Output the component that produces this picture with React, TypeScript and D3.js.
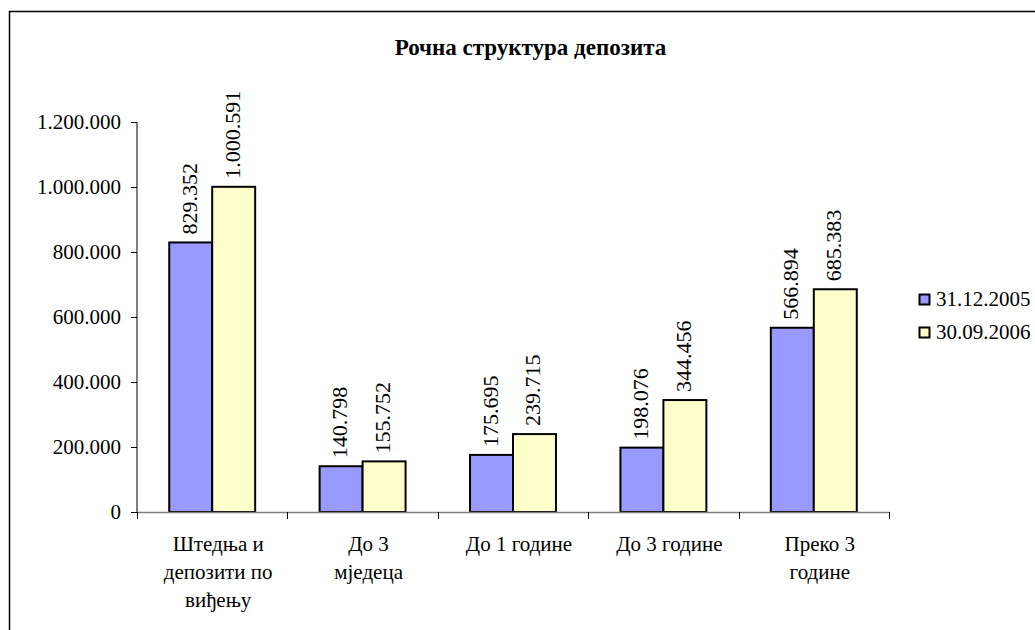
import React from "react";
import * as d3 from "d3";

// Maturity structure of deposits, two reporting dates
const categories: string[][] = [
  ["Штедња и", "депозити по", "виђењу"],
  ["До 3", "мједеца"],
  ["До 1 године"],
  ["До 3 године"],
  ["Преко 3", "године"],
];
const seriesNames = ["31.12.2005", "30.09.2006"];
const values2005 = [829352, 140798, 175695, 198076, 566894];
const values2006 = [1000591, 155752, 239715, 344456, 685383];
const yTicks = [0, 200000, 400000, 600000, 800000, 1000000, 1200000];
const title = "Рочна структура депозита";

const colors = ["#9999FF", "#FFFFCC"];

const locale = d3.formatLocale({
  decimal: ",",
  thousands: ".",
  grouping: [3],
  currency: ["", ""],
});
const fmt = locale.format(",d");

const css = `
  .chart text { font-family: "Times New Roman", "Tinos", "Liberation Serif", serif; fill: #000; }
  .chart .title { font-size: 23px; font-weight: bold; }
  .chart .tick { font-size: 21px; }
  .chart .val { font-size: 22px; }
`;

export default function App() {
  const W = 1035;
  const H = 630;
  const plot = { left: 137, right: 889, top: 122, bottom: 512 };

  const x = d3
    .scaleBand<number>()
    .domain(categories.map((_, i) => i))
    .range([plot.left, plot.right])
    .paddingInner(0)
    .paddingOuter(0);
  const y = d3.scaleLinear().domain([0, 1200000]).range([plot.bottom, plot.top]);

  const band = x.bandwidth();
  const barW = band / 3.5;
  const gap = (band - 2 * barW) / 2;
  const series = [values2005, values2006];

  return (
    <div style={{ position: "absolute", left: 0, top: 0, width: W, height: H, overflow: "hidden" }}>
      <svg className="chart" width={W} height={H} style={{ display: "block", background: "#fff" }}>
        <style>{css}</style>
        <rect x={9.5} y={11.5} width={1100} height={700} fill="#fff" stroke="#000" strokeWidth={1.5} />

        <text className="title" x={530.5} y={55} textAnchor="middle">
          {title}
        </text>

        {/* y axis */}
        <line x1={plot.left} x2={plot.left} y1={y(1200000)} y2={plot.bottom} stroke="#000" strokeWidth={1} />
        {yTicks.map((t) => (
          <g key={t}>
            <line x1={plot.left - 6} x2={plot.left} y1={Math.round(y(t)) + 0.5} y2={Math.round(y(t)) + 0.5} stroke="#000" />
            <text className="tick" x={plot.left - 16} y={y(t) + 7} textAnchor="end">
              {fmt(t)}
            </text>
          </g>
        ))}

        {/* bars */}
        {series.map((vals, s) =>
          vals.map((v, i) => {
            const bx = (x(i) as number) + gap + s * barW;
            const by = y(v);
            return (
              <g key={`${s}-${i}`}>
                <rect
                  x={bx}
                  y={by}
                  width={barW}
                  height={plot.bottom - by}
                  fill={colors[s]}
                  stroke="#000"
                  strokeWidth={2}
                />
                <text className="val" transform={`translate(${bx + barW / 2 + 6},${by - 8}) rotate(-90)`}>
                  {fmt(v)}
                </text>
              </g>
            );
          })
        )}

        {/* x axis */}
        <line x1={plot.left} x2={plot.right} y1={plot.bottom + 0.5} y2={plot.bottom + 0.5} stroke="#808080" strokeWidth={1.5} />
        {d3.range(categories.length + 1).map((i) => {
          const tx = Math.round(plot.left + i * band) + 0.5;
          return <line key={i} x1={tx} x2={tx} y1={plot.bottom} y2={plot.bottom + 7} stroke="#000" />;
        })}
        {categories.map((lines, i) =>
          lines.map((l, k) => (
            <text
              key={`${i}-${k}`}
              className="tick"
              x={(x(i) as number) + band / 2 + 6}
              y={551 + k * 28}
              textAnchor="middle"
            >
              {l}
            </text>
          ))
        )}

        {/* legend */}
        {seriesNames.map((n, s) => (
          <g key={n}>
            <rect x={919.5} y={294.5 + s * 33} width={10} height={10} fill={colors[s]} stroke="#000" strokeWidth={2} />
            <text className="tick" x={936} y={306 + s * 33}>
              {n}
            </text>
          </g>
        ))}
      </svg>
    </div>
  );
}
